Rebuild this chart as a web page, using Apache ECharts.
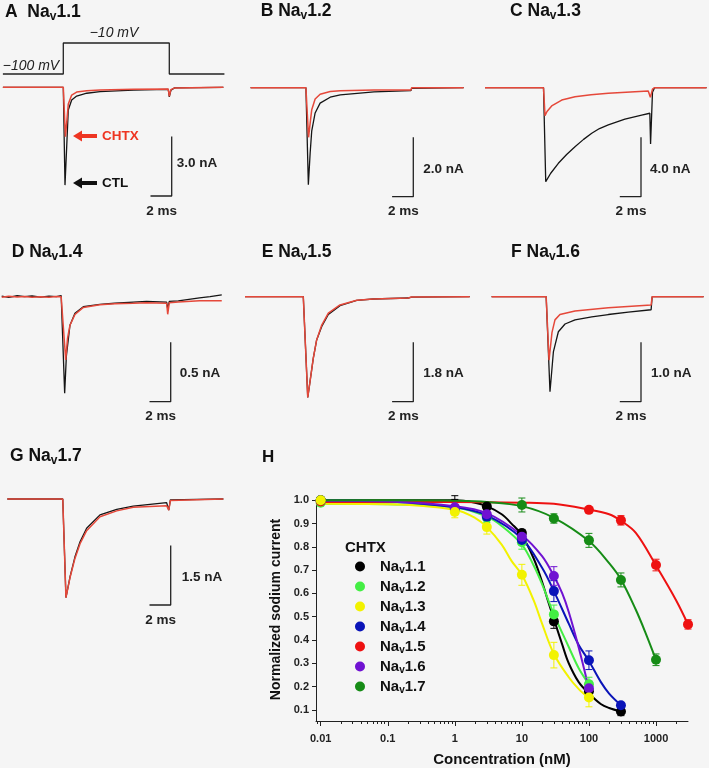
<!DOCTYPE html>
<html><head><meta charset="utf-8">
<script src="https://cdn.jsdelivr.net/npm/echarts@6/dist/echarts.min.js"></script>
<style>html,body{margin:0;padding:0;background:#f5f5f5}#c{width:709px;height:768px}</style>
</head><body><div id="c"></div>
<script>
// ================= DATA =================
const channels = ['Nav1.1','Nav1.2','Nav1.3','Nav1.4','Nav1.5','Nav1.6','Nav1.7'];
const panelLetters = ['A','B','C','D','E','F','G'];
const scaleNA = [3.0, 2.0, 4.0, 0.5, 1.8, 1.0, 1.5];   // vertical scale bars (nA)
const scaleMs = 2;                                       // horizontal scale bars (ms)
const holdingMV = -100, testMV = -10, pulseMs = 10;      // voltage protocol
const protocolT = [-5.7, 0, 0, 10, 10, 15.2];
const protocolV = [-100, -100, -10, -10, -100, -100];

// Current traces: [time (ms from pulse onset), current (nA)]
const ctl11  = [[-5.7,0],[0,0],[0.16,-4.94],[0.32,-3.0],[0.47,-1.15],[0.79,-0.64],[1.26,-0.44],[2.21,-0.30],[3.46,-0.22],[6.6,-0.14],[9.9,-0.10],[10.0,-0.48],[10.15,-0.15],[10.5,-0.03],[15.1,0]];
const chtx11 = [[-5.7,0],[0,0],[0.2,-2.5],[0.35,-1.6],[0.47,-0.85],[0.79,-0.39],[1.26,-0.24],[2.21,-0.17],[3.46,-0.14],[6.6,-0.10],[9.9,-0.09],[10.0,-0.45],[10.15,-0.12],[10.5,-0.03],[15.1,0]];
const ctl12  = [[-5.2,0],[0.02,0],[0.25,-3.27],[0.42,-2.2],[0.57,-1.45],[0.89,-0.85],[1.36,-0.52],[2.31,-0.32],[3.26,-0.24],[6.44,-0.14],[9.93,-0.10],[10.0,-0.02],[14.9,0]];
const chtx12 = [[-5.2,0],[0.02,0],[0.27,-1.67],[0.45,-1.1],[0.57,-0.74],[0.89,-0.38],[1.36,-0.22],[2.31,-0.13],[3.26,-0.10],[6.44,-0.08],[9.93,-0.08],[10.0,0],[14.9,0]];
const ctl13  = [[-5.5,0],[0.02,0],[0.23,-6.33],[0.7,-5.76],[1.42,-5.09],[2.2,-4.5],[2.99,-3.97],[3.8,-3.48],[4.57,-3.07],[5.3,-2.75],[6.13,-2.51],[7.7,-2.11],[9.28,-1.84],[10.05,-1.72],[10.12,-3.79],[10.3,-0.3],[10.5,0],[15.4,0]];
const chtx13 = [[-5.5,0],[0.02,0],[0.16,-1.88],[0.35,-1.6],[0.79,-1.23],[1.74,-0.83],[2.99,-0.61],[4.5,-0.47],[6.13,-0.38],[9.9,-0.22],[10.1,-0.65],[10.3,-0.1],[10.5,0],[15.4,0]];
const ctl14  = [[-5.66,0.005],[-5,-0.005],[-4.2,0.008],[-3.5,0],[-2.8,0.006],[-2,-0.004],[-1.2,0.005],[-0.5,0],[-0.05,0.01],[0.28,-0.813],[0.44,-0.5],[0.78,-0.24],[1.25,-0.14],[2.04,-0.084],[3.6,-0.064],[5,-0.055],[6.75,-0.045],[8,-0.04],[9.9,-0.045],[10.0,-0.1],[10.15,-0.04],[11,-0.035],[13,-0.01],[14,0],[15.1,0.015]];
const chtx14 = [[-5.66,-0.005],[-5,0.004],[-4.2,-0.003],[-3.5,0.002],[-2.8,-0.004],[-2,0],[-1.2,-0.004],[-0.5,0.002],[-0.05,0],[0.38,-0.533],[0.55,-0.35],[0.78,-0.24],[1.25,-0.15],[2.04,-0.09],[3.6,-0.068],[5,-0.06],[6.75,-0.055],[8,-0.05],[9.9,-0.055],[10.0,-0.148],[10.15,-0.05],[11,-0.045],[13,-0.035],[15.1,-0.035]];
const ctl15  = [[-5.5,0],[0,0],[0.16,-1.17],[0.42,-3.05],[0.63,-2.58],[0.94,-1.87],[1.26,-1.31],[1.74,-0.9],[2.36,-0.54],[3.46,-0.27],[5.04,-0.11],[6.6,-0.07],[9.9,-0.04],[10.2,-0.01],[15.7,0]];
const chtx15 = [[-5.5,0],[0,0],[0.16,-1.17],[0.42,-3.05],[0.63,-2.58],[0.94,-1.87],[1.26,-1.31],[1.74,-0.86],[2.36,-0.5],[3.46,-0.25],[5.04,-0.11],[6.6,-0.07],[9.9,-0.04],[10.2,-0.01],[15.7,0]];
const ctl16  = [[-5.2,0],[-0.05,0],[0.31,-1.6],[0.63,-0.93],[1.1,-0.59],[1.73,-0.46],[2.67,-0.39],[4.25,-0.34],[5.81,-0.30],[7.7,-0.26],[9.85,-0.22],[9.95,0],[14.8,0]];
const chtx16 = [[-5.2,0],[-0.05,0],[0.22,-1.07],[0.5,-0.6],[0.78,-0.39],[1.25,-0.30],[2.67,-0.24],[5.81,-0.185],[9.85,-0.14],[9.95,0],[14.8,0]];
const ctl17  = [[-5.28,0],[-0.05,0],[0.25,-2.49],[0.63,-1.97],[1.1,-1.46],[1.58,-1.08],[2.2,-0.74],[3.46,-0.40],[5.04,-0.26],[6.6,-0.18],[9.75,-0.09],[9.95,-0.28],[10.1,-0.02],[15.1,0]];
const chtx17 = [[-5.28,0],[-0.05,0],[0.25,-2.49],[0.63,-1.99],[1.1,-1.5],[1.58,-1.13],[2.2,-0.80],[3.46,-0.45],[5.04,-0.30],[6.6,-0.21],[9.75,-0.17],[9.95,-0.28],[10.1,-0.04],[15.1,0]];
const ctlTraces  = [ctl11, ctl12, ctl13, ctl14, ctl15, ctl16, ctl17];
const chtxTraces = [chtx11, chtx12, chtx13, chtx14, chtx15, chtx16, chtx17];

// Dose-response (panel H): concentration (nM), normalized current, SEM
const conc11 = [0.01, 1, 3, 10, 30, 100, 300];
const mean11 = [1.0, 1.012, 0.973, 0.86, 0.48, 0.18, 0.093];
const sem11  = [0.005, 0.008, 0.012, 0.015, 0.03, 0.02, 0.018];
const conc12 = [0.01, 1, 3, 10, 30, 100];
const mean12 = [0.99, 0.96, 0.925, 0.82, 0.51, 0.21];
const sem12  = [0.005, 0.02, 0.02, 0.03, 0.04, 0.03];
const conc13 = [0.01, 1, 3, 10, 30, 100];
const mean13 = [1.0, 0.95, 0.885, 0.68, 0.335, 0.153];
const sem13  = [0.005, 0.025, 0.03, 0.045, 0.055, 0.04];
const conc14 = [0.01, 1, 3, 10, 30, 100, 300];
const mean14 = [1.0, 0.965, 0.93, 0.83, 0.61, 0.313, 0.12];
const sem14  = [0.005, 0.01, 0.015, 0.02, 0.045, 0.04, 0.01];
const conc15 = [0.01, 100, 300, 1000, 3000];
const mean15 = [0.995, 0.959, 0.914, 0.722, 0.467];
const sem15  = [0.005, 0.01, 0.02, 0.025, 0.02];
const conc16 = [0.01, 1, 3, 10, 30, 100];
const mean16 = [1.0, 0.97, 0.94, 0.843, 0.675, 0.193];
const sem16  = [0.005, 0.01, 0.02, 0.02, 0.04, 0.03];
const conc17 = [0.01, 10, 30, 100, 300, 1000];
const mean17 = [1.0, 0.98, 0.922, 0.828, 0.658, 0.315];
const sem17  = [0.005, 0.03, 0.02, 0.03, 0.03, 0.025];

// Fitted curves
const fitConc11 = [0.01, 0.3, 1, 2, 3, 5, 7, 10, 15, 20, 25, 30, 40, 50, 70, 100, 150, 200, 300];
const fitVal11  = [1.0, 1.0, 1.0, 0.99, 0.975, 0.94, 0.9, 0.85, 0.75, 0.65, 0.56, 0.49, 0.38, 0.30, 0.22, 0.17, 0.125, 0.108, 0.093];
const fitConc12 = [0.01, 0.1, 1, 3, 5, 10, 15, 20, 30, 50, 70, 100];
const fitVal12  = [0.985, 0.983, 0.97, 0.93, 0.89, 0.81, 0.72, 0.64, 0.51, 0.37, 0.28, 0.21];
const fitConc13 = [0.01, 0.1, 1, 2, 3, 5, 7, 10, 15, 20, 30, 50, 70, 100];
const fitVal13  = [0.985, 0.983, 0.96, 0.925, 0.885, 0.81, 0.74, 0.68, 0.57, 0.47, 0.34, 0.24, 0.19, 0.15];
const fitConc14 = [0.01, 0.1, 1, 3, 10, 20, 30, 50, 70, 100, 150, 200, 300];
const fitVal14  = [1.0, 0.995, 0.97, 0.935, 0.835, 0.71, 0.61, 0.47, 0.38, 0.31, 0.22, 0.17, 0.12];
const fitConc15 = [0.01, 1, 10, 30, 100, 200, 300, 500, 1000, 2000, 3000];
const fitVal15  = [0.993, 0.993, 0.99, 0.985, 0.96, 0.94, 0.912, 0.86, 0.72, 0.57, 0.467];
const fitConc16 = [0.01, 0.1, 1, 3, 10, 20, 30, 40, 50, 70, 100];
const fitVal16  = [0.998, 0.995, 0.975, 0.945, 0.85, 0.76, 0.675, 0.6, 0.52, 0.37, 0.19];
const fitConc17 = [0.01, 0.1, 1, 3, 10, 30, 100, 200, 300, 500, 700, 1000];
const fitVal17  = [1.0, 1.0, 0.998, 0.993, 0.975, 0.925, 0.825, 0.73, 0.66, 0.53, 0.43, 0.315];

const xTickConc   = [0.01, 0.1, 1, 10, 100, 1000];
const xTickLabels = ['0.01', '0.1', '1', '10', '100', '1000'];
const yTickLabels = ['0.1','0.2','0.3','0.4','0.5','0.6','0.7','0.8','0.9','1.0'];

// ================= STYLE / LAYOUT =================
const FONT = '"Liberation Sans", Arial, Helvetica, sans-serif';
const BLACK = '#151515', RED = '#e5483a', ARROW_RED = '#ee3522';
const doseColors = ['#000000', '#44ee44', '#f2f200', '#0a14b8', '#ee1111', '#7012d2', '#168c16'];
const PX_PER_MS = 10.6, BAR_PX = 59.4;
const panels = [
  {x0:63.3,  y0:87.3,  l:0,   w:230, t:30,  h:200, sbx:171.7, sby:196,   lx:5,     ly:12,  title:'A  Na', nx:5,  ny:-33},
  {x0:305.7, y0:87.7,  l:245, w:225, t:30,  h:200, sbx:413.3, sby:196.7, lx:260.7, ly:11,  title:'B Na',  nx:10, ny:-27},
  {x0:543.3, y0:87.7,  l:480, w:229, t:30,  h:200, sbx:641,   sby:196.7, lx:510,   ly:11,  title:'C Na',  nx:9,  ny:-27},
  {x0:61.7,  y0:296.7, l:0,   w:230, t:270, h:160, sbx:170.7, sby:401.7, lx:11.7,  ly:252, title:'D Na',  nx:9,  ny:-28},
  {x0:303.3, y0:296.7, l:240, w:235, t:270, h:160, sbx:413.3, sby:401.7, lx:261.7, ly:252, title:'E Na',  nx:10, ny:-28},
  {x0:546.7, y0:296.7, l:480, w:229, t:270, h:160, sbx:641,   sby:401.7, lx:511,   ly:252, title:'F Na',  nx:10, ny:-28},
  {x0:63.3,  y0:499,   l:0,   w:230, t:470, h:160, sbx:170.7, sby:605,   lx:10,    ly:456, title:'G Na',  nx:11, ny:-28}
];

const grids = [], xAxes = [], yAxes = [], series = [], graphics = [];
const titleRich = {
  b: {fontFamily: FONT, fontWeight: 'bold', fontSize: 17.5, lineHeight: 22, fill: '#111'},
  s: {fontFamily: FONT, fontWeight: 'bold', fontSize: 12, lineHeight: 12, verticalAlign: 'bottom', fill: '#111'}
};

panels.forEach((p, i) => {
  const pxPerNA = BAR_PX / scaleNA[i];
  grids.push({left: p.l, top: p.t, width: p.w, height: p.h, containLabel: false});
  xAxes.push({type: 'value', gridIndex: i, show: false, min: (p.l - p.x0) / PX_PER_MS, max: (p.l + p.w - p.x0) / PX_PER_MS});
  yAxes.push({type: 'value', gridIndex: i, show: false, max: (p.y0 - p.t) / pxPerNA, min: (p.y0 - p.t - p.h) / pxPerNA});
  series.push({type: 'line', xAxisIndex: i, yAxisIndex: i, data: ctlTraces[i], showSymbol: false, silent: true,
    lineStyle: {color: BLACK, width: 1.3}, z: 2});
  series.push({type: 'line', xAxisIndex: i, yAxisIndex: i, data: chtxTraces[i], showSymbol: false, silent: true,
    lineStyle: {color: RED, width: 1.5}, z: 3});
  // scale bar
  const sbT = (p.sbx - p.x0) / PX_PER_MS, sbI = -(p.sby - p.y0) / pxPerNA;
  series.push({type: 'line', xAxisIndex: i, yAxisIndex: i, showSymbol: false, silent: true,
    data: [[sbT - scaleMs, sbI], [sbT, sbI], [sbT, sbI + scaleNA[i]]],
    lineStyle: {color: '#222', width: 1.3}, z: 2});
  graphics.push({type: 'text', x: p.sbx + p.nx, y: p.sby + p.ny,
    style: {text: scaleNA[i].toFixed(1) + ' nA', font: 'bold 13.5px ' + FONT, fill: '#222', verticalAlign: 'middle'}});
  graphics.push({type: 'text', x: p.sbx - 10, y: p.sby + 15,
    style: {text: scaleMs + ' ms', font: 'bold 13.5px ' + FONT, fill: '#222', align: 'center', verticalAlign: 'middle'}});
  // title
  graphics.push({type: 'text', x: p.lx, y: p.ly,
    style: {text: '{b|' + p.title + '}{s|v}{b|' + channels[i].slice(3) + '}', rich: titleRich, verticalAlign: 'middle'}});
});

// voltage protocol (panel A) — grid 7
const vPxPerMV = 31 / 90;
grids.push({left: 0, top: 30, width: 230, height: 60});
xAxes.push({type: 'value', gridIndex: 7, show: false, min: (0 - 63.3) / PX_PER_MS, max: (230 - 63.3) / PX_PER_MS});
yAxes.push({type: 'value', gridIndex: 7, show: false, max: -10 + (43 - 30) / vPxPerMV, min: -100 - (90 - 74) / vPxPerMV});
series.push({type: 'line', xAxisIndex: 7, yAxisIndex: 7, showSymbol: false, silent: true,
  data: protocolT.map((t, k) => [t, protocolV[k]]), lineStyle: {color: '#222', width: 1.3}});
graphics.push({type: 'text', x: 31, y: 66, style: {text: '\u2212' + Math.abs(holdingMV) + ' mV', font: 'italic 14px ' + FONT, fill: '#222', align: 'center', verticalAlign: 'middle'}});
graphics.push({type: 'text', x: 114, y: 33, style: {text: '\u2212' + Math.abs(testMV) + ' mV', font: 'italic 14px ' + FONT, fill: '#222', align: 'center', verticalAlign: 'middle'}});

// arrows in panel A
function arrow(y, color) {
  graphics.push({type: 'rect', shape: {x: 80, y: y - 2, width: 17, height: 4}, style: {fill: color}});
  graphics.push({type: 'polygon', shape: {points: [[73, y], [82, y - 5.5], [82, y + 5.5]]}, style: {fill: color}});
}
arrow(136, ARROW_RED);
arrow(183, '#111');
graphics.push({type: 'text', x: 102, y: 136, style: {text: 'CHTX', font: 'bold 13.5px ' + FONT, fill: ARROW_RED, verticalAlign: 'middle'}});
graphics.push({type: 'text', x: 102, y: 183, style: {text: 'CTL', font: 'bold 13.5px ' + FONT, fill: '#111', verticalAlign: 'middle'}});

// ================= PANEL H =================
graphics.push({type: 'text', x: 262, y: 457, style: {text: 'H', font: 'bold 17px ' + FONT, fill: '#111', verticalAlign: 'middle'}});
graphics.push({type: 'text', x: 345, y: 548, style: {text: 'CHTX', font: 'bold 15px ' + FONT, fill: '#111', verticalAlign: 'middle'}});

const logMin = -2.07, logMax = 3.477;
const majorTicks = xTickConc.map(c => Math.log10(c));
const minorTicks = [];
for (let n = -3; n <= 3; n++) for (let k = 2; k <= 9; k++) {
  const v = n + Math.log10(k);
  if (v > logMin && v < logMax) minorTicks.push(v);
}
const yTicks = yTickLabels.map(Number);
grids.push({left: 316, top: 498, width: 372, height: 226});
xAxes.push({type: 'value', gridIndex: 8, min: logMin, max: logMax, position: 'bottom',
  axisLine: {show: true, onZero: false, lineStyle: {color: '#222', width: 1}},
  axisTick: {show: true, customValues: majorTicks, length: 5, lineStyle: {color: '#222', width: 1}},
  axisLabel: {show: true, customValues: majorTicks, formatter: v => xTickLabels[majorTicks.findIndex(m => Math.abs(m - v) < 1e-6)],
    fontFamily: FONT, fontWeight: 'bold', fontSize: 11, color: '#222', margin: 12},
  splitLine: {show: false},
  name: 'Concentration (nM)', nameLocation: 'middle', nameGap: 31,
  nameTextStyle: {fontFamily: FONT, fontWeight: 'bold', fontSize: 15, color: '#111'}});
xAxes.push({type: 'value', gridIndex: 8, min: logMin, max: logMax, position: 'bottom',
  axisLine: {show: false, onZero: false}, axisLabel: {show: false}, splitLine: {show: false},
  axisTick: {show: true, customValues: minorTicks, length: 3, lineStyle: {color: '#222', width: 1}}});
yAxes.push({type: 'value', gridIndex: 8, min: 0.052, max: 1.01, position: 'left',
  axisLine: {show: true, onZero: false, lineStyle: {color: '#222', width: 1}},
  axisTick: {show: true, customValues: yTicks, length: 4, lineStyle: {color: '#222', width: 1}},
  axisLabel: {show: true, customValues: yTicks, formatter: v => v.toFixed(1),
    fontFamily: FONT, fontWeight: 'bold', fontSize: 11, color: '#222', margin: 7},
  splitLine: {show: false},
  name: 'Normalized sodium current', nameLocation: 'middle', nameGap: 27, nameRotate: 90,
  nameTextStyle: {fontFamily: FONT, fontWeight: 'bold', fontSize: 14, color: '#111'}});

const doseConc = [conc11, conc12, conc13, conc14, conc15, conc16, conc17];
const doseMean = [mean11, mean12, mean13, mean14, mean15, mean16, mean17];
const doseSem  = [sem11, sem12, sem13, sem14, sem15, sem16, sem17];
const fitConc  = [fitConc11, fitConc12, fitConc13, fitConc14, fitConc15, fitConc16, fitConc17];
const fitVal   = [fitVal11, fitVal12, fitVal13, fitVal14, fitVal15, fitVal16, fitVal17];

channels.forEach((ch, i) => {
  const col = doseColors[i];
  series.push({type: 'line', name: ch + ' fit', xAxisIndex: 8, yAxisIndex: 8, showSymbol: false, silent: true,
    smooth: 0.35, data: fitConc[i].map((c, k) => [Math.log10(c), fitVal[i][k]]),
    lineStyle: {color: col, width: 2}, z: 3});
  series.push({type: 'custom', name: ch + ' sem', xAxisIndex: 8, yAxisIndex: 8, silent: true, z: 4,
    data: doseConc[i].map((c, k) => [Math.log10(c), doseMean[i][k], doseSem[i][k]]),
    renderItem: (params, api) => {
      const x = api.value(0), m = api.value(1), e = api.value(2);
      const hi = api.coord([x, m + e]), lo = api.coord([x, m - e]);
      const st = {stroke: col, lineWidth: 1};
      return {type: 'group', children: [
        {type: 'line', shape: {x1: hi[0], y1: hi[1], x2: lo[0], y2: lo[1]}, style: st},
        {type: 'line', shape: {x1: hi[0] - 3.5, y1: hi[1], x2: hi[0] + 3.5, y2: hi[1]}, style: st},
        {type: 'line', shape: {x1: lo[0] - 3.5, y1: lo[1], x2: lo[0] + 3.5, y2: lo[1]}, style: st}
      ]};
    }});
  series.push({type: 'scatter', name: ch, xAxisIndex: 8, yAxisIndex: 8, symbol: 'circle', symbolSize: 10,
    data: doseConc[i].map((c, k) => [Math.log10(c), doseMean[i][k]]),
    itemStyle: {color: col, opacity: 1}, z: i === 2 ? 6 : 5});
});

const option = {
  backgroundColor: '#f5f5f5',
  animation: false,
  grid: grids, xAxis: xAxes, yAxis: yAxes, series: series,
  legend: {
    data: channels, orient: 'vertical', left: 355, top: 559, padding: 0,
    icon: 'circle', itemWidth: 10, itemHeight: 10, itemGap: 3.5, selectedMode: false,
    formatter: name => '{n|Na}{s|v}{n|' + name.slice(3) + '}',
    textStyle: {padding: [0, 0, 0, 10], rich: {
      n: {fontFamily: FONT, fontWeight: 'bold', fontSize: 15, lineHeight: 18, color: '#111'},
      s: {fontFamily: FONT, fontWeight: 'bold', fontSize: 10, lineHeight: 10, verticalAlign: 'bottom', color: '#111'}
    }}
  },
  graphic: graphics
};
const chart = echarts.init(document.getElementById('c'));
chart.setOption(option);
</script></body></html>
